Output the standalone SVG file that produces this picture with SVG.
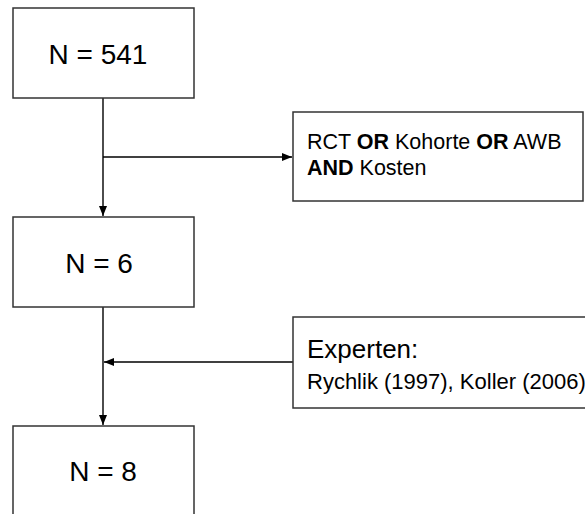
<svg xmlns="http://www.w3.org/2000/svg" width="585" height="514" viewBox="0 0 585 514">
<defs>
<style>
.box{fill:#fff;stroke:#333;stroke-width:1.5}
.big{font-family:"Liberation Sans",Arial,sans-serif;font-size:28px;fill:#000;text-anchor:middle}
.txt{font-family:"Liberation Sans",Arial,sans-serif;fill:#000}
.con{stroke:#000;stroke-width:1.4;fill:none}
</style>
<marker id="ah" viewBox="0 0 10 8" refX="10" refY="4" markerWidth="10" markerHeight="8" markerUnits="userSpaceOnUse" orient="auto">
<path d="M0,0 L10,4 L0,8 Z" fill="#000"/>
</marker>
</defs>
<rect width="585" height="514" fill="#fff"/>
<g id="connectors">
<path class="con" d="M103,98 V216" marker-end="url(#ah)"/>
<path class="con" d="M103,157 H292" marker-end="url(#ah)"/>
<path class="con" d="M103,307 V425" marker-end="url(#ah)"/>
<path class="con" d="M293,362 H104" marker-end="url(#ah)"/>
</g>
<g id="n541">
<rect class="box" x="13" y="8" width="181" height="90"/>
<text class="big" x="98" y="64">N = 541</text>
</g>
<g id="n6">
<rect class="box" x="13" y="217" width="181" height="90"/>
<text class="big" x="99" y="273">N = 6</text>
</g>
<g id="n8">
<rect class="box" x="13" y="426" width="181" height="100"/>
<text class="big" x="103" y="481">N = 8</text>
</g>
<g id="criteria">
<rect class="box" x="293" y="112" width="290" height="89"/>
<text class="txt" x="307" y="149" font-size="21.5">RCT <tspan font-weight="bold">OR</tspan> Kohorte <tspan font-weight="bold">OR</tspan> AWB</text>
<text class="txt" x="307" y="175" font-size="21.5"><tspan font-weight="bold">AND</tspan> Kosten</text>
</g>
<g id="experts">
<rect class="box" x="293" y="317" width="300" height="91"/>
<text class="txt" x="307" y="358" font-size="26">Experten:</text>
<text class="txt" x="307" y="389" font-size="22">Rychlik (1997), Koller (2006)</text>
</g>
</svg>
